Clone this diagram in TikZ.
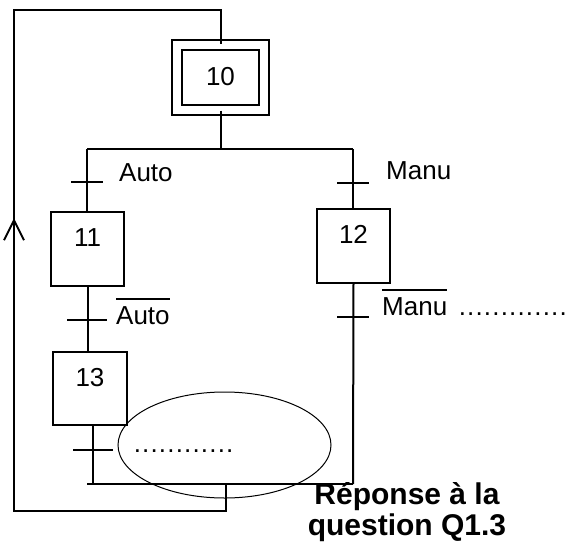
\documentclass[tikz,border=0pt]{standalone}
\usepackage{fontspec}
\setmainfont{Liberation Sans}
\usetikzlibrary{positioning, arrows.meta, shapes.geometric}

\newcommand{\compl}[1]{\vbox{\hrule height 1.8pt\kern 6pt\hbox{#1}}}
\newcommand{\pointilles}[1]{\foreach \i in {1,...,#1}{\makebox[8.4pt]{.}}}

\tikzset{
  lbl/.style={font=\fontsize{26}{30}\selectfont, inner sep=0pt},
  stepbox/.style={draw, line width=2pt, minimum width=73pt, minimum height=74pt,
                  inner sep=0pt, font=\fontsize{26}{30}\selectfont,
                  text height=19pt, text depth=23.6pt},
  initstep/.style={draw, line width=2pt, double, double distance=8pt,
                   minimum width=86.5pt, minimum height=65pt, inner sep=0pt,
                   font=\fontsize{26}{30}\selectfont},
  link/.style={line width=2pt},
  tickline/.style={line width=2pt}
}

\begin{document}
\begin{tikzpicture}[x=1pt, y=-1pt]
  \useasboundingbox (0,0) rectangle (566,547);

  % steps
  \node[initstep] (s10) at (220.5,77) {10};
  \node[stepbox] (s11) at (87.5,249) {11};
  \node[stepbox] (s12) at (353.5,246) {12};
  \node[stepbox, minimum width=74pt, minimum height=73pt] (s13) at (90,388.5) {13};

  % divergence / convergence points
  \coordinate (div) at (220.5,149);
  \coordinate (dl) at (87,149);
  \coordinate (dr) at (353,149);
  \coordinate (cl) at (87,484);
  \coordinate (cr) at (353,484);
  \coordinate (cb) at (226,484);
  \coordinate (lb) at (14,511);
  \coordinate (lt) at (14,10);
  \coordinate (arr) at (14,218);

  % transitions
  \coordinate (t1) at (87,182);
  \coordinate (t2) at (353,183);
  \coordinate (t3) at (87,320);
  \coordinate (t4) at (353,317);
  \coordinate (t5) at (93,450);

  % links
  \draw[link] (s10.south) -- (div);
  \draw[link] (dl) -- (dr);
  \draw[link] (dl) -- (dl |- s11.north);
  \draw[link] (dr) -- (dr |- s12.north);
  \draw[link] (s11.south) -- (s11.south |- s13.north);
  \draw[link] ([xshift=3pt]s13.south) -- ([xshift=3pt]s13.south |- cl);
  \draw[link] (s12.south) -- (cr);
  \draw[link] (cl) -- (cr);
  \draw[link] (cb) -- (cb |- lb) -- (lb) -- (lt) -| (s10.north);
  \draw[link, -{Straight Barb[length=20pt, width=20pt]}] ([yshift=-30pt]arr) -- (arr);

  \foreach \t/\h in {t1/16, t2/16, t3/20, t4/16, t5/20}
    \draw[tickline] ([xshift=-\h pt]\t) -- ([xshift=\h pt]\t);

  % receptivities
  \node[lbl, anchor=base west] (rauto) at (119,181) {Auto};
  \node[lbl, anchor=base west] (rmanu) at (386,179) {Manu};
  \node[lbl, anchor=base west] (rnauto) at (116,324) {\compl{Auto}};
  \node[lbl, anchor=base west] (rnmanu) at (382,315) {\compl{Manu}};
  \node[lbl, anchor=base west] (mdots) at (458,315) {\pointilles{13}};

  % answer zone
  \node[draw, ellipse, line width=1pt, minimum width=213pt, minimum height=106pt,
        inner sep=0pt] (ell) at (224.5,445) {};
  \node[lbl, anchor=base west] (edots) at (133,452) {\pointilles{12}};
  \node[font=\fontsize{30}{31}\selectfont\bfseries, align=center, inner sep=0pt,
        anchor=base] (rep) at (407,535) {Réponse à la\\question Q1.3};
\end{tikzpicture}
\end{document}
